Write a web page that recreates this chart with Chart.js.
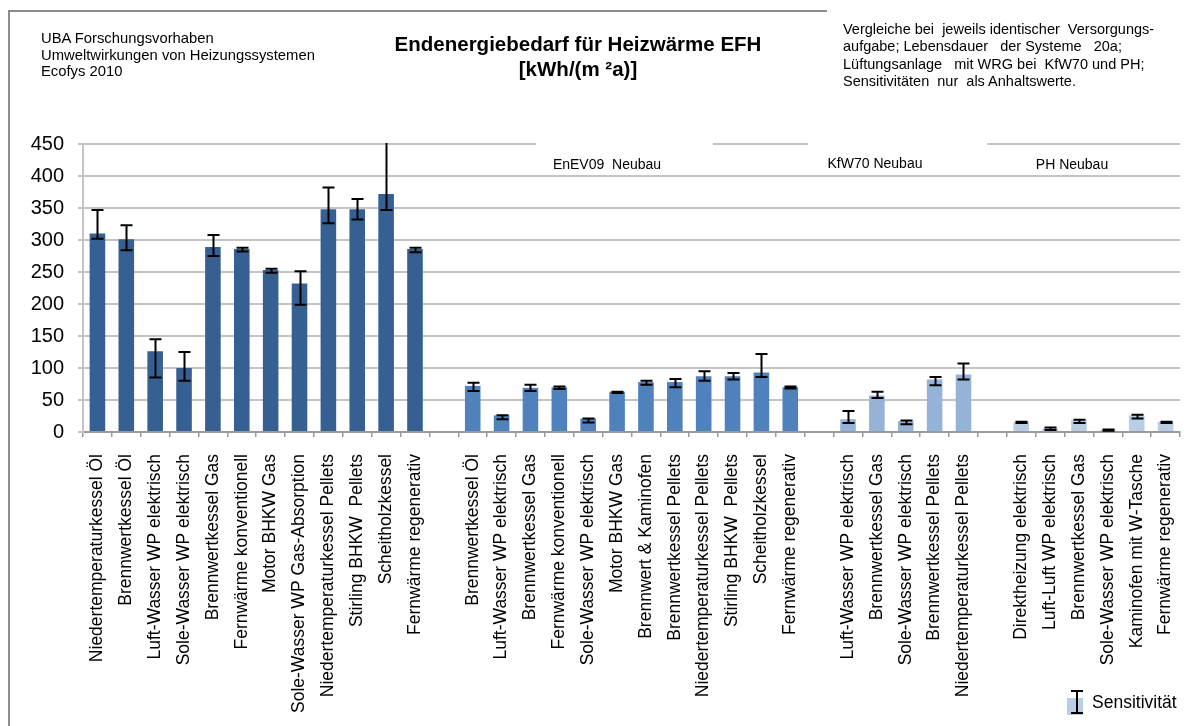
<!DOCTYPE html>
<html>
<head>
<meta charset="utf-8">
<script src="https://cdn.jsdelivr.net/npm/chart.js@4"></script>
<style>
  html,body{margin:0;padding:0;background:#fff;}
  #wrap{position:relative;width:1200px;height:726px;overflow:hidden;font-family:"Liberation Sans",Arial,sans-serif;color:#000;}
  #c{position:absolute;left:0;top:0;}
  .frame{position:absolute;left:8px;top:10px;width:817px;height:730px;border-top:2px solid #8c8c8c;border-left:2px solid #8c8c8c;}
  .src{position:absolute;left:41px;top:30px;font-size:14.8px;line-height:16.5px;white-space:pre;}
  .title{position:absolute;left:328px;width:500px;top:31px;text-align:center;font-size:20.5px;font-weight:bold;line-height:25px;}
  .note{position:absolute;left:843px;top:21px;font-size:14.5px;line-height:17.3px;white-space:pre;}
  .grp{position:absolute;font-size:14px;white-space:pre;transform:translate(-50%,-50%);}
  .mask{position:absolute;top:141px;height:5px;background:#fff;}
  .legend{position:absolute;left:1067px;top:690px;font-size:17.5px;}
  .sw{position:absolute;left:0;top:8px;width:16px;height:17px;background:#b9cde5;}
  .ebar{position:absolute;left:9px;top:0px;width:2px;height:23px;background:#000;}
  .ecap{position:absolute;left:4px;width:12px;height:2px;background:#000;}
  .ltxt{position:absolute;left:25px;top:2px;white-space:pre;}
</style>
</head>
<body>
<div id="wrap">
  <canvas id="c" width="1200" height="726"></canvas>
  <div class="frame"></div>
  <div class="mask" style="left:536px;width:177px;"></div>
  <div class="mask" style="left:808px;width:179px;"></div>
  <div class="src">UBA Forschungsvorhaben
Umweltwirkungen von Heizungssystemen
Ecofys 2010</div>
  <div class="title">Endenergiebedarf für Heizwärme EFH<br>[kWh/(m ²a)]</div>
  <div class="note">Vergleiche bei  jeweils identischer  Versorgungs-
aufgabe; Lebensdauer   der Systeme   20a;
Lüftungsanlage   mit WRG bei  KfW70 und PH;
Sensitivitäten  nur  als Anhaltswerte.</div>
  <div class="grp" style="left:607px;top:164px;">EnEV09  Neubau</div>
  <div class="grp" style="left:875px;top:163px;">KfW70 Neubau</div>
  <div class="grp" style="left:1072px;top:164px;">PH Neubau</div>
  <div class="legend">
    <div class="sw"></div>
    <div class="ebar"></div>
    <div class="ecap" style="top:0px;"></div>
    <div class="ecap" style="top:22px;"></div>
    <div class="ltxt">Sensitivität</div>
  </div>
</div>
<script>
// ---- data ----
const bestandLabels = ["Niedertemperaturkessel Öl","Brennwertkessel Öl","Luft-Wasser WP elektrisch","Sole-Wasser WP elektrisch","Brennwertkessel Gas","Fernwärme konventionell","Motor BHKW Gas","Sole-Wasser WP Gas-Absorption","Niedertemperaturkessel Pellets","Stirling BHKW  Pellets","Scheitholzkessel","Fernwärme regenerativ"];
const bestandValues = [310, 301, 126, 100, 289, 286, 253, 232, 348, 348, 372, 286];
const bestandLow    = [302, 284, 85, 80, 275, 282, 249, 199, 326, 332, 347, 281];
const bestandHigh   = [347, 323, 145, 125, 308, 288, 255, 251, 382, 364, 470, 288];

const enevLabels = ["Brennwertkessel Öl","Luft-Wasser WP elektrisch","Brennwertkessel Gas","Fernwärme konventionell","Sole-Wasser WP elektrisch","Motor BHKW Gas","Brennwert & Kaminofen","Brennwertkessel Pellets","Niedertemperaturkessel Pellets","Stirling BHKW  Pellets","Scheitholzkessel","Fernwärme regenerativ"];
const enevValues = [72, 26, 69, 70, 21, 63, 78, 78, 87, 87, 93, 70];
const enevLow    = [64, 20, 64, 67, 15, 61, 74, 70, 80, 82, 86, 68];
const enevHigh   = [77, 26, 74, 71, 21, 63, 80, 83, 95, 92, 122, 71];

const kfwLabels = ["Luft-Wasser WP elektrisch","Brennwertkessel Gas","Sole-Wasser WP elektrisch","Brennwertkessel Pellets","Niedertemperaturkessel Pellets"];
const kfwValues = [20, 57, 17, 82, 90];
const kfwLow    = [14, 53, 12, 73, 82];
const kfwHigh   = [33, 63, 18, 86, 107];

const phLabels = ["Direktheizung elektrisch","Luft-Luft WP elektrisch","Brennwertkessel Gas","Sole-Wasser WP elektrisch","Kaminofen mit W-Tasche","Fernwärme regenerativ"];
const phValues = [16, 6, 19, 3.5, 26, 16];
const phLow    = [14, 3, 14, 2, 21, 14];
const phHigh   = [16, 7, 19, 4, 27, 16];

const yTicks = [0, 50, 100, 150, 200, 250, 300, 350, 400, 450];
const groupColors = ["#376092", "#4f81bd", "#95b3d7", "#b9cde5"];

// ---- build combined arrays ----
const groups = [
  [bestandLabels, bestandValues, bestandLow, bestandHigh],
  [enevLabels, enevValues, enevLow, enevHigh],
  [kfwLabels, kfwValues, kfwLow, kfwHigh],
  [phLabels, phValues, phLow, phHigh]
];
const labels = [], values = [], lows = [], highs = [], colors = [];
groups.forEach((g, gi) => {
  if (gi > 0) { labels.push(""); values.push(null); lows.push(null); highs.push(null); colors.push("rgba(0,0,0,0)"); }
  g[0].forEach((l, i) => {
    labels.push(l); values.push(g[1][i]); lows.push(g[2][i]); highs.push(g[3][i]); colors.push(groupColors[gi]);
  });
});

const errorBars = {
  id: "errorBars",
  afterDatasetsDraw(chart) {
    const ctx = chart.ctx, ys = chart.scales.y, ca = chart.chartArea;
    const meta = chart.getDatasetMeta(0);
    ctx.save();
    ctx.beginPath();
    ctx.rect(ca.left, ca.top - 1, ca.right - ca.left, ca.bottom - ca.top + 1);
    ctx.clip();
    ctx.strokeStyle = "#000";
    ctx.lineWidth = 2;
    meta.data.forEach((bar, i) => {
      if (lows[i] == null) return;
      const x = Math.round(bar.x) + 0.5;
      const yl = ys.getPixelForValue(lows[i]);
      const yh = ys.getPixelForValue(highs[i]);
      ctx.beginPath();
      ctx.moveTo(x, yl); ctx.lineTo(x, yh);
      ctx.moveTo(x - 6, yl); ctx.lineTo(x + 6, yl);
      ctx.moveTo(x - 6, yh); ctx.lineTo(x + 6, yh);
      ctx.stroke();
    });
    ctx.restore();
  }
};

Chart.defaults.font.family = '"Liberation Sans", Arial, sans-serif';
Chart.defaults.color = "#000";

new Chart(document.getElementById("c"), {
  type: "bar",
  data: {
    labels: labels,
    datasets: [{
      label: "Sensitivität",
      data: values,
      backgroundColor: colors,
      borderWidth: 0,
      categoryPercentage: 1.0,
      barPercentage: 0.54
    }]
  },
  options: {
    responsive: false,
    animation: false,
    layout: { padding: { left: 0, top: 144, right: 20, bottom: 0 } },
    plugins: { legend: { display: false }, tooltip: { enabled: false } },
    scales: {
      x: {
        offset: true,
        afterFit: s => { s.height = 294; s.paddingRight = 0; },
        grid: { drawOnChartArea: false, drawTicks: true, tickLength: 5, offset: true, color: "#9a9a9a", lineWidth: 1.5 },
        border: { color: "#9a9a9a", width: 2 },
        ticks: { autoSkip: false, maxRotation: 90, minRotation: 90, padding: 17, font: { size: 17.5 }, color: "#000" }
      },
      y: {
        min: 0, max: 450,
        afterFit: s => { s.width = 83; },
        afterBuildTicks: s => { s.ticks = yTicks.map(v => ({ value: v })); },
        grid: { color: "#c4c4c4", lineWidth: 2, tickLength: 5 },
        border: { color: "#c4c4c4", width: 2 },
        ticks: { padding: 14, font: { size: 20 }, color: "#000" }
      }
    }
  },
  plugins: [errorBars]
});
</script>
</body>
</html>
